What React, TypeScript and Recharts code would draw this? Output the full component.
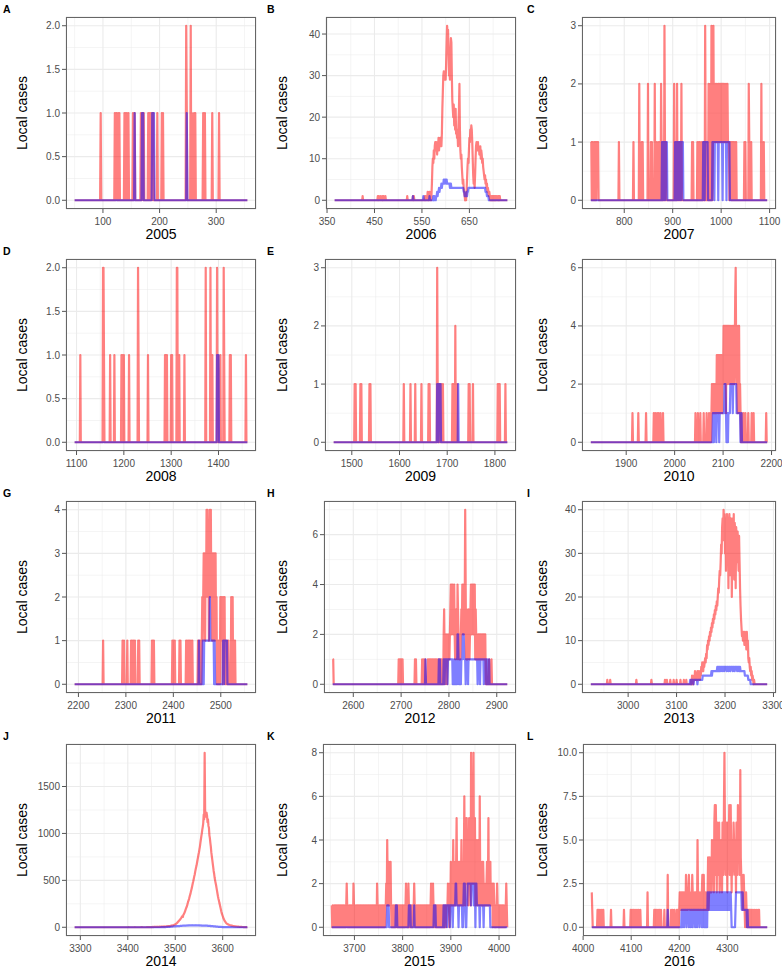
import { LineChart, Line, XAxis, YAxis, CartesianGrid } from "recharts";

// daily local cases (red) and linked cases (blue), one list per year.
// each entry: [firstDay, value, value, ...] for consecutive days; days not listed are 0
const local2005 = [
  [96, 1], [121, 1, 0, 1, 1, 0, 0, 1], [129, 1], [138, 1, 0, 1, 0, 1], [145, 1],
  [153, 1, 0, 1, 1], [167, 1, 0, 1, 1, 0, 1], [180, 1, 0, 1, 0, 1, 0, 1, 1, 0, 1],
  [196, 1], [204, 1, 0, 1], [247, 2, 1], [255, 2, 0, 1], [261, 1, 0, 1],
  [277, 1, 0, 0, 1], [293, 1], [305, 1],
];
const linked2005 = [[156, 1], [169, 1, 1, 1], [187, 1, 1, 1, 1], [248, 1]];

const local2006 = [
  [425, 1], [457, 1, 0, 1, 0, 0, 0, 1, 0, 0, 0, 1, 0, 1, 0, 0, 0, 1], [519, 1],
  [531, 1, 0, 1], [556, 1, 0, 1], [562, 2, 1, 0, 1, 2, 1, 0, 0],
  [570,
    1, 4, 8, 10, 9, 12, 10, 13, 14, 12,
    14, 13, 11, 14, 13, 15, 12, 14, 13, 15,
    14, 13, 16, 22, 26, 30, 31, 29, 30, 31,
    29, 33, 38, 42, 40, 41, 36, 30, 31, 29,
    35, 39, 38, 30, 24, 22, 20, 23, 18, 21,
    17, 22, 16, 17, 15, 16, 13, 18, 22, 28,
    17, 12, 10, 11, 8, 6, 4, 5, 3, 2,
    1, 0, 1, 0, 2, 5, 8, 10, 9, 12,
    15, 14, 17, 16, 18, 17, 14, 10, 6, 4,
    5, 3, 6, 10, 13, 14, 12, 13, 14, 12,
    13, 11, 12, 13, 10, 12, 11, 9, 10, 8,
    7, 6, 5, 6, 4, 5, 3, 4, 2, 3,
    2, 1, 2, 1, 0, 1, 1, 0, 1, 0,
    1, 1, 0, 1, 0, 1, 0, 1, 0, 0,
    1, 0, 1, 0, 1],
];
const linked2006 = [
  [531, 1], [553, 1], [566, 1], [574, 1, 0, 1],
  [580,
    1, 1, 2, 1, 2, 2, 3, 2, 3, 3,
    3, 4, 3, 4, 4, 4, 5, 4, 5, 5,
    5, 4, 5, 4, 4, 4, 4, 4, 4, 3,
    4, 4, 3, 3, 3, 3, 3, 3, 3, 3,
    3, 3, 3, 3, 3, 3, 3, 3, 3, 3,
    3, 3, 3, 3, 3, 3, 3, 3, 2, 2,
    1, 1, 1, 1, 2, 1, 2, 2, 3, 3,
    3, 3, 3, 3, 3, 3, 3, 3, 3, 3,
    3, 3, 3, 3, 3, 3, 3, 3, 3, 3,
    3, 3, 3, 3, 3, 3, 3, 3, 3, 3,
    3, 3, 3, 3, 2, 2, 2, 1, 1, 1,
    1, 0],
];

const local2007 = [
  [731, 1, 1, 0, 1, 1, 0, 0, 1, 0, 1, 1, 0, 1, 1, 1, 1], [789, 1], [819, 1], [831, 2],
  [836, 1, 0, 1], [849, 2], [855, 1, 0, 1], [863, 2, 0, 0, 0, 1],
  [871, 1, 0, 1, 0, 0, 2, 1, 0, 1, 0, 1, 0, 3, 1, 0, 1],
  [903, 2, 0, 1, 0, 0, 0, 2, 0, 1, 0, 0, 1, 0, 0, 0, 2], [940, 1, 0, 1], [951, 1, 0, 0, 1, 0, 1],
  [960,
    1, 0, 0, 1, 0, 1, 0, 3, 1, 0,
    1, 0, 1, 0, 2, 1, 0, 1, 2, 0,
    3, 1, 0, 1, 3, 1, 2, 1, 2, 1,
    1, 2, 1, 1, 2, 1, 2, 1, 1, 2,
    1, 2, 1, 2, 2, 1, 2, 1, 1, 1,
    2, 1, 1, 2, 1, 1, 1, 0, 1, 1,
    1, 0, 1, 0, 1, 0, 1, 1, 0, 0,
    1, 1],
  [1048, 1, 0, 1], [1057, 2, 1], [1062, 1], [1083, 2, 0, 1], [1088, 1],
];
const linked2007 = [
  [878, 1, 1, 0, 1, 1, 1, 0, 1, 1, 1, 1],
  [905, 1, 1, 0, 1, 0, 1, 1, 1, 0, 1, 1, 1, 0, 1, 1, 1, 1],
  [963, 1, 1, 1, 0, 1, 1, 1, 1, 1, 1],
  [982, 1, 1, 1, 1, 0, 1, 1, 1, 1, 1, 1, 1, 0, 1, 1, 1, 1, 1, 1, 1, 1, 0, 1, 1, 1, 1, 1, 1, 1, 0, 1, 1, 1, 1, 1, 1],
];

const local2008 = [
  [1108, 1], [1156, 2, 2, 1], [1171, 1], [1180, 1], [1195, 1, 0, 1], [1200, 1], [1211, 1],
  [1230, 2, 1], [1251, 1], [1287, 1, 0, 1, 0, 1], [1300, 1, 0, 1], [1312, 2, 2], [1317, 1],
  [1328, 1], [1373, 2], [1383, 2, 0, 0, 0, 1], [1397, 2, 0, 1], [1404, 1], [1411, 2, 1],
  [1424, 1, 0, 1], [1458, 1],
];
const linked2008 = [[1397, 1, 1, 1, 1]];

const local2009 = [
  [1506, 1, 0, 1], [1518, 1, 0, 1], [1537, 1, 0, 1], [1609, 1], [1623, 1], [1633, 1], [1646, 1],
  [1661, 1, 0, 1], [1679, 3, 1, 0, 1, 0, 1, 0, 0, 0, 1, 0, 0, 1],
  [1711, 1, 0, 1, 0, 0, 0, 2, 0, 0, 0, 1], [1745, 1, 0, 1], [1754, 1], [1806, 1, 0, 1, 0, 1], [1822, 1],
];
const linked2009 = [[1679, 1, 1, 1, 0, 1, 1, 1, 1], [1723, 1]];

const local2010 = [
  [1913, 1], [1925, 1], [1941, 1], [1957, 1, 0, 0, 1, 0, 0, 0, 1, 0, 0, 1, 0, 0, 0, 1, 0, 0, 0, 0, 1],
  [2043, 1], [2048, 1], [2053, 1], [2060, 1], [2066, 1], [2071, 1], [2074, 1],
  [2076,
    1, 2, 1, 2, 2, 1, 2, 1, 2, 2,
    1, 3, 2, 3, 1, 3, 2, 3, 1, 3,
    2, 3, 1, 3, 2, 4, 3, 4, 2, 4,
    1, 4, 3, 4, 2, 4, 3, 4, 2, 3,
    4, 2, 3, 4, 2, 3, 4, 2, 3, 5,
    6, 3, 2, 3, 1, 4, 2, 4, 1, 2,
    1, 0, 1],
  [2142, 1], [2146, 1], [2152, 1], [2159, 1], [2163, 1], [2189, 1],
];
const linked2010 = [
  [2079,
    1, 1, 0, 1, 1, 1, 1, 0, 1, 1,
    1, 1, 1, 0, 1, 1, 1, 1, 1, 1,
    1, 1, 1, 1, 2, 2, 2, 1, 0, 1,
    1, 0, 1, 1, 1, 1, 2, 2, 2, 2,
    2, 1, 2, 2, 2, 2, 2, 2, 2, 1,
    1, 1, 1, 1, 1, 1, 1, 0, 0, 1],
];

const local2011 = [
  [2252, 1], [2293, 1, 0, 0, 1], [2303, 1], [2311, 1, 0, 1, 0, 0, 1, 0, 0, 1], [2326, 1, 0, 1],
  [2355, 1, 0, 1, 0, 1], [2398, 1, 0, 1, 0, 0, 1], [2413, 1, 0, 1],
  [2427, 1, 0, 1, 0, 0, 1, 0, 1, 0, 0, 1, 0, 0, 1], [2452, 1, 0, 1],
  [2455,
    1, 0, 1, 1, 0, 1, 2, 1, 2, 3,
    2, 3, 1, 3, 2, 4, 3, 4, 2, 3,
    1, 3, 4, 3, 4, 2, 3, 1, 3, 2,
    3, 1, 3, 2, 3, 1, 2, 0, 1, 0,
    1, 0, 1, 0, 2, 1, 2, 1, 2, 0,
    1, 2, 1, 2, 0, 1, 0, 0, 1, 0,
    0, 1],
  [2522, 2, 1, 0, 2, 0, 0, 1, 0, 1],
];
const linked2011 = [
  [2454, 1],
  [2462, 1, 1, 0, 1, 1, 1, 1, 1, 1, 1, 1, 1, 1, 1, 1, 2, 1, 1, 1, 1, 1, 1, 1, 1, 0, 1],
  [2505, 1, 1, 0, 1, 1, 1, 1, 1, 1],
];

const local2012 = [
  [2557, 1, 1], [2695, 1, 0, 1, 0, 1, 0, 1, 0, 1], [2729, 1, 0, 1], [2744, 1, 0, 0, 1, 0, 0, 1],
  [2756,
    1, 0, 1, 1, 0, 1, 1, 0, 1, 0,
    1, 1, 0, 1, 0, 1, 1, 0, 1, 0,
    0, 1, 1, 0, 1, 1, 0, 1, 1, 0,
    1, 1, 0, 2, 3, 1, 0, 1, 2, 1,
    0, 1, 2, 1, 2, 1, 2, 3, 4, 2,
    4, 3, 4, 2, 3, 4, 2, 1, 2, 3,
    2, 1, 4, 3, 2, 1, 2, 2, 1, 2,
    3, 2, 4, 3, 4, 2, 4, 3, 7, 4,
    1, 3, 2, 1, 2, 3, 2, 1, 2, 3,
    4, 2, 4, 3, 4, 2, 4, 3, 4, 1,
    3, 2, 1, 2, 1, 2, 2, 1, 2, 1,
    2, 2, 1, 2, 2, 1, 2, 2, 1, 2,
    2, 0, 1],
  [2884, 1], [2889, 1],
];
const linked2012 = [
  [2751, 1], [2779, 1, 0, 1],
  [2789,
    1, 1, 0, 1, 1, 1, 1, 1, 0, 1,
    1, 1, 1, 1, 1, 1, 1, 1, 1, 0,
    0, 0, 1, 0, 0, 0, 1, 0, 0, 2,
    2, 1, 0, 1, 0, 1, 0, 1, 1, 1,
    2, 2, 2, 1, 1, 1, 0, 1, 1, 1,
    1, 0, 1, 1, 1, 1, 1, 1, 1, 1,
    1, 1, 1, 1, 1, 1, 1, 1, 1, 1,
    1, 0, 1, 1, 1, 1, 0, 1, 1, 1,
    1, 1, 1, 1, 0, 1, 1, 1, 1, 0,
    1, 1, 0, 0, 0, 1],
];

const local2013 = [
  [2957, 1], [2963, 1], [3017, 1], [3048, 1], [3076, 1, 0, 0, 0, 1], [3087, 1], [3094, 1],
  [3100, 1], [3108, 1], [3115, 1], [3120, 1],
  [3130,
    1, 0, 2, 1, 0, 1, 2, 1, 3, 1,
    2, 1, 2, 3, 1, 2, 3, 2, 1, 3,
    2, 4, 3, 5, 4, 3, 5, 4, 5, 6,
    5, 7, 6, 9, 8, 10, 9, 11, 10, 12,
    11, 13, 12, 14, 13, 15, 14, 16, 15, 17,
    16, 18, 17, 19, 18, 20, 22, 21, 24, 26,
    25, 28, 32, 30, 36, 38, 33, 40, 35, 39,
    30, 38, 26, 36, 39, 32, 38, 22, 37, 39,
    34, 25, 38, 36, 20, 33, 38, 30, 39, 24,
    37, 35, 22, 36, 33, 28, 35, 30, 26, 34,
    28, 22, 18, 15, 13, 11, 12, 10, 12, 11,
    9, 12, 10, 11, 8, 12, 9, 10, 6, 5,
    6, 4, 3, 4, 2, 3, 1, 2, 1, 0,
    1],
];
const linked2013 = [
  [3128,
    1, 1, 0, 1, 1, 1, 1, 0, 1, 1,
    1, 1, 1, 1, 1, 0, 1, 1, 1, 1,
    1, 1, 1, 1, 1, 1, 2, 2, 2, 2,
    2, 2, 2, 2, 2, 2, 2, 2, 2, 2,
    2, 2, 2, 2, 3, 2, 3, 3, 3, 3,
    3, 3, 3, 3, 3, 3, 4, 3, 4, 3,
    4, 4, 3, 4, 4, 4, 3, 4, 4, 4,
    3, 4, 4, 4, 4, 3, 4, 4, 4, 3,
    4, 4, 4, 3, 4, 4, 4, 4, 3, 4,
    4, 4, 3, 4, 4, 4, 4, 3, 4, 4,
    4, 3, 4, 4, 3, 3, 3, 3, 3, 3,
    3, 3, 3, 2, 2, 2, 2, 2, 2, 2,
    1, 1, 1, 1, 1, 0],
];

const local2014 = [
  [3402, 1], [3415, 1], [3428, 1, 0, 2],
  [3440,
    1, 0, 2, 1, 1, 3, 2, 1, 2, 3,
    2, 3, 2, 4, 3, 2, 4, 3, 5, 4,
    3, 5, 4, 6, 5, 4, 6, 5, 7, 6,
    5, 7, 6, 8, 7, 6, 8, 9, 7, 8,
    8, 10, 9, 11, 10, 12, 11, 13, 12, 14,
    15, 17, 16, 19, 18, 21, 20, 24, 26, 28,
    30, 34, 38, 42, 47, 52, 58, 63, 70, 76,
    80, 88, 95, 102, 110, 118, 110, 130, 140, 150,
    160, 175, 190, 205, 215, 230, 250, 270, 285, 300,
    320, 340, 355, 380, 400, 420, 445, 470, 490, 515,
    540, 560, 590, 615, 640, 660, 690, 720, 745, 775,
    800, 830, 860, 900, 935, 970, 1000, 1040, 1070, 1110,
    1200, 1150, 1860, 1250, 1180, 1210, 1220, 1190, 1120, 1150,
    1080, 1060, 980, 950, 900, 860, 800, 760, 720, 680,
    640, 600, 570, 530, 500, 475, 450, 420, 390, 360,
    330, 305, 285, 260, 240, 215, 195, 170, 150, 135,
    120, 105, 90, 80, 70, 62, 55, 48, 42, 38,
    35, 32, 29, 27, 24, 22, 21, 20, 18, 17,
    17, 15, 14, 13, 12, 11, 10, 10, 9, 8,
    8, 7, 7, 6, 6, 5, 5, 5, 4, 4,
    4, 3, 3, 3, 2, 2, 2, 1, 1, 1,
    1, 0, 1],
];
const linked2014 = [
  [3470,
    1, 0, 1, 2, 1, 2, 1, 3, 2, 3,
    2, 3, 4, 3, 4, 5, 4, 5, 6, 5,
    6, 7, 6, 8, 7, 8, 9, 8, 10, 9,
    10, 11, 10, 12, 11, 13, 12, 13, 14, 13,
    14, 15, 14, 16, 15, 16, 17, 16, 17, 18,
    17, 18, 19, 18, 19, 20, 19, 18, 20, 19,
    20, 19, 21, 20, 19, 21, 20, 22, 21, 20,
    21, 20, 22, 21, 20, 19, 21, 20, 19, 20,
    19, 20, 18, 19, 20, 18, 19, 17, 18, 19,
    18, 17, 19, 18, 16, 17, 18, 16, 17, 15,
    16, 15, 14, 15, 13, 14, 12, 13, 11, 12,
    10, 11, 9, 10, 8, 9, 7, 8, 6, 7,
    6, 5, 6, 4, 5, 4, 3, 4, 3, 2,
    3, 2, 2, 1, 2, 1, 1, 0, 1, 1,
    0, 1, 0, 1, 0, 0, 1, 0, 0, 1],
];

const local2015 = [
  [3653,
    1, 0, 1, 0, 0, 1, 0, 1, 1, 0,
    1, 0, 1, 0, 1, 1, 0, 1, 0, 1,
    0, 1, 0, 1, 1, 0, 1, 0, 1, 0,
    1, 2, 1, 0, 1, 0, 1, 1, 0, 1,
    0, 1, 0, 1, 0, 2, 1, 0, 1, 0,
    1, 0, 1, 1, 0, 1, 0, 1, 0, 1,
    1, 0, 1, 0, 1, 0, 1, 1, 0, 1,
    0, 1, 0, 1, 0, 1, 1, 0, 1, 0,
    1, 0, 1, 0, 1, 1, 0, 1, 0, 1,
    0, 1, 1, 0, 2, 1, 0, 1, 0, 1,
    1, 0, 1, 0, 1, 1, 0, 1, 0, 1,
    0, 1, 1, 2, 1, 4, 2, 1, 3, 1,
    2, 1, 3, 1, 0, 1, 0, 1, 0, 1,
    0, 1, 1, 0, 1, 0, 1, 1, 0, 1,
    0, 1, 0, 1, 1, 0, 1, 0, 1, 0,
    1, 1, 0, 1, 2, 1, 0, 1, 0, 2,
    1, 0, 1, 0, 1, 1, 0, 1, 0, 1,
    1, 2, 1, 0, 1, 0, 1, 1, 0, 1,
    0, 1, 0, 1, 1, 0, 1, 0, 1, 0,
    1, 0, 1, 1, 0, 1, 0, 1, 0, 1,
    1, 0, 1, 1, 0, 1, 2, 1, 0, 1,
    2, 1, 0, 1, 0, 1, 1, 0, 1, 0,
    1, 0, 1, 0, 1, 1, 0, 1, 0, 1,
    1, 0, 1, 1, 0, 1, 1, 0, 1, 1,
    1, 2, 1, 1, 0, 2, 1, 3, 1, 2,
    1, 2, 4, 1, 3, 2, 1, 2, 3, 5,
    2, 1, 3, 2, 1, 3, 1, 2, 2, 4,
    1, 3, 2, 1, 3, 6, 2, 1, 3, 5,
    5, 2, 4, 1, 3, 5, 2, 4, 1, 8,
    3, 5, 2, 4, 8, 2, 3, 5, 1, 3,
    2, 4, 1, 2, 4, 3, 1, 6, 2, 3,
    1, 2, 3, 1, 3, 2, 1, 2, 1, 2,
    1, 2, 3, 1, 2, 5, 1, 3, 2, 3,
    1, 2, 1, 2, 0, 1, 2, 1, 0, 1,
    1, 0, 1, 2, 1, 0, 1, 1, 0, 1,
    1, 0, 1, 0, 1, 1, 0, 1, 0, 1,
    0, 1, 2, 1, 0],
];
const linked2015 = [
  [3768, 1, 1, 1, 1], [3786, 1, 1, 1], [3813, 1, 1, 1, 1], [3824, 1], [3865, 1, 1, 1, 1],
  [3885,
    1, 1, 0, 1, 1, 1, 1, 0, 1, 1,
    1, 1, 1, 0, 1, 1, 1, 1, 1, 0,
    1, 1, 1, 1, 1, 2, 2, 1, 1, 1,
    1, 0, 1, 1, 1, 1, 1, 1, 1, 0,
    0, 1, 2, 2, 2, 1, 0, 0, 1, 1,
    2, 2, 2, 2, 2, 2, 2, 1, 2, 2,
    2, 2, 2, 1, 2, 2, 0, 2, 2, 1,
    1, 1, 1, 1, 1, 0, 1, 1, 1, 1,
    1, 1, 1, 0, 1, 1, 1, 1, 1, 1,
    1, 1, 1, 1, 1, 1, 1, 0, 0, 0],
];

const local2016 = [
  [4018, 2, 1], [4030, 1, 0, 1, 0, 0, 1, 0, 0, 0, 1, 0, 0, 1], [4058, 1], [4085, 1],
  [4099, 1, 0, 0, 1, 0, 0, 1, 0, 0, 1, 0, 0, 0, 1, 0, 0, 1, 0, 0, 0, 1], [4134, 2],
  [4148, 1, 0, 1, 0, 0, 1, 0, 0, 1, 0, 0, 1, 0, 0, 1], [4169, 1], [4176, 3],
  [4183, 1, 0, 0, 1, 0, 0, 0, 1],
  [4195,
    1, 0, 1, 1, 0, 1, 2, 1, 2, 1,
    2, 1, 2, 2, 1, 2, 1, 2, 1, 3,
    2, 1, 2, 1, 2, 3, 2, 1, 2, 1,
    2, 1, 3, 2, 1, 2, 1, 2, 1, 2,
    1, 2, 1, 5, 2, 1, 2, 1, 2, 1,
    2, 1, 2, 3, 1, 2, 3, 1, 2, 1,
    2, 1, 2, 1, 2, 4, 1, 2, 4, 2,
    3, 4, 2, 5, 3, 4, 5, 2, 6, 7,
    3, 7, 5, 2, 6, 4, 3, 5, 6, 2,
    4, 3, 5, 4, 2, 6, 5, 3, 7, 10,
    6, 4, 3, 6, 5, 2, 6, 4, 5, 7,
    3, 5, 7, 4, 2, 5, 3, 4, 6, 5,
    4, 3, 5, 2, 6, 4, 3, 7, 4, 5,
    6, 3, 9, 4, 3, 2, 3, 1, 2, 3,
    2, 1, 0, 1, 2, 1, 0, 1, 0, 1,
    0, 1, 0, 1, 0, 1, 0, 0, 1, 0,
    0, 1, 0, 0, 0, 1, 0, 0, 0, 1,
    0, 1, 0],
];
const linked2016 = [
  [4176, 1],
  [4205,
    1, 0, 1, 1, 1, 0, 1, 1, 1, 1,
    0, 1, 1, 1, 1, 0, 1, 1, 1, 0,
    1, 1, 1, 0, 1, 1, 1, 1, 0, 1,
    1, 1, 0, 1, 1, 1, 1, 0, 1, 1,
    1, 1, 0, 0, 1, 1, 1, 0, 1, 1,
    0, 1, 1, 0, 2, 2, 1, 2, 2, 1,
    2, 1, 1, 2, 1, 2, 2, 1, 2, 1,
    2, 2, 1, 2, 1, 2, 1, 2, 2, 1,
    2, 1, 2, 2, 1, 2, 1, 2, 1, 2,
    2, 1, 2, 2, 1, 2, 1, 2, 2, 1,
    2, 1, 2, 1, 0, 0, 0, 0, 0, 0,
    0, 0, 1, 2, 2, 2, 2, 2, 2, 2,
    2, 2, 2, 2, 2, 1, 2, 2, 1, 1,
    1, 1, 1, 1, 1, 1, 0, 1, 0, 0],
];

const PANELS = [
  { letter: "A", year: "2005", start: 50, end: 355, xTicks: [100, 200, 300], yTicks: [0, 0.5, 1, 1.5, 2], digits: 1, left: 66, local: local2005, linked: linked2005 },
  { letter: "B", year: "2006", start: 366, end: 730, xTicks: [350, 450, 550, 650], yTicks: [0, 10, 20, 30, 40], digits: 0, left: 66, local: local2006, linked: linked2006 },
  { letter: "C", year: "2007", start: 731, end: 1095, xTicks: [800, 900, 1000, 1100], yTicks: [0, 1, 2, 3], digits: 0, left: 62, local: local2007, linked: linked2007 },
  { letter: "D", year: "2008", start: 1096, end: 1461, xTicks: [1100, 1200, 1300, 1400], yTicks: [0, 0.5, 1, 1.5, 2], digits: 1, left: 66, local: local2008, linked: linked2008 },
  { letter: "E", year: "2009", start: 1462, end: 1826, xTicks: [1500, 1600, 1700, 1800], yTicks: [0, 1, 2, 3], digits: 0, left: 65, local: local2009, linked: linked2009 },
  { letter: "F", year: "2010", start: 1827, end: 2191, xTicks: [1900, 2000, 2100, 2200], yTicks: [0, 2, 4, 6], digits: 0, left: 62, local: local2010, linked: linked2010 },
  { letter: "G", year: "2011", start: 2192, end: 2556, xTicks: [2200, 2300, 2400, 2500], yTicks: [0, 1, 2, 3, 4], digits: 0, left: 66, local: local2011, linked: linked2011 },
  { letter: "H", year: "2012", start: 2557, end: 2922, xTicks: [2600, 2700, 2800, 2900], yTicks: [0, 2, 4, 6], digits: 0, left: 64, local: local2012, linked: linked2012 },
  { letter: "I", year: "2013", start: 2923, end: 3287, xTicks: [3000, 3100, 3200, 3300], yTicks: [0, 10, 20, 30, 40], digits: 0, left: 62, local: local2013, linked: linked2013 },
  { letter: "J", year: "2014", start: 3288, end: 3652, xTicks: [3300, 3400, 3500, 3600], yTicks: [0, 500, 1000, 1500], digits: 0, left: 66, local: local2014, linked: linked2014 },
  { letter: "K", year: "2015", start: 3653, end: 4017, xTicks: [3700, 3800, 3900, 4000], yTicks: [0, 2, 4, 6, 8], digits: 0, left: 63, local: local2015, linked: linked2015 },
  { letter: "L", year: "2016", start: 4018, end: 4383, xTicks: [4000, 4100, 4200, 4300], yTicks: [0, 2.5, 5, 7.5, 10], digits: 1, left: 63, local: local2016, linked: linked2016 },
];

const FONT = '"Liberation Sans", Arial, Helvetica, sans-serif';
const COL_X = [0, 260, 520];
const ROW_Y = [0, 242, 484, 727];
const H = 242;
const TOP = 17;
const BOTTOM = 209;
const RIGHT = 256;

function buildRows(start: number, end: number, local: number[][], linked: number[][]) {
  const a = new Map<number, number>();
  const b = new Map<number, number>();
  local.forEach(([s, ...v]) => v.forEach((c, i) => a.set(s + i, c)));
  linked.forEach(([s, ...v]) => v.forEach((c, i) => b.set(s + i, c)));
  const rows = [];
  for (let d = start; d <= end; d++) rows.push({ day: d, local: a.get(d) ?? 0, linked: b.get(d) ?? 0 });
  return rows;
}

// ggplot style 5% expansion
const expand = (lo: number, hi: number) => [lo - (hi - lo) * 0.05, hi + (hi - lo) * 0.05];

const minorOf = (ticks: number[], dom: number[]) => {
  const step = ticks[1] - ticks[0];
  const out: number[] = [];
  for (let v = ticks[0] - step / 2; v <= dom[1]; v += step) if (v >= dom[0]) out.push(v);
  return out;
};

function Panel({ p, idx }: { p: any; idx: number }) {
  const col = idx % 3;
  const row = Math.floor(idx / 3);
  const W = col === 2 ? 262 : 260;
  const rows = buildRows(p.start, p.end, p.local, p.linked);
  const yMax = Math.max(...rows.map((r) => Math.max(r.local, r.linked)));
  const xDom = expand(p.start, p.end);
  const yDom = expand(0, yMax);
  const tickStyle = { fontSize: 10, fill: "#4D4D4D", fontFamily: FONT };
  return (
    <div style={{ position: "absolute", left: COL_X[col], top: ROW_Y[row], width: W, height: H }}>
      <LineChart width={W} height={H} data={rows} margin={{ top: TOP, right: W - RIGHT, bottom: 0, left: 0 }}>
        <XAxis xAxisId="minor" type="number" dataKey="day" domain={xDom} ticks={minorOf(p.xTicks, xDom)} hide allowDataOverflow interval={0} />
        <YAxis yAxisId="minor" type="number" domain={yDom} ticks={minorOf(p.yTicks, yDom)} hide allowDataOverflow interval={0} />
        <CartesianGrid xAxisId="minor" yAxisId="minor" stroke="#EBEBEB" strokeWidth={0.55} />
        <CartesianGrid stroke="#EBEBEB" strokeWidth={1.1} />
        <XAxis
          type="number"
          dataKey="day"
          domain={xDom}
          ticks={p.xTicks}
          allowDataOverflow
          interval={0}
          height={H - BOTTOM}
          tickSize={4}
          tickMargin={5}
          axisLine={false}
          tickLine={{ stroke: "#555" }}
          tick={tickStyle}
        />
        <YAxis
          type="number"
          domain={yDom}
          ticks={p.yTicks}
          allowDataOverflow
          interval={0}
          width={p.left}
          tickSize={4}
          tickMargin={2}
          axisLine={false}
          tickLine={{ stroke: "#555" }}
          tick={tickStyle}
          tickFormatter={(v: number) => v.toFixed(p.digits)}
        />
        <Line dataKey="local" type="linear" stroke="#FF0000" strokeOpacity={0.5} strokeWidth={2.2} strokeLinejoin="round" dot={false} activeDot={false} isAnimationActive={false} />
        <Line dataKey="linked" type="linear" stroke="#0000FF" strokeOpacity={0.5} strokeWidth={2.2} strokeLinejoin="round" dot={false} activeDot={false} isAnimationActive={false} />
      </LineChart>
      <div
        style={{
          position: "absolute",
          left: p.left,
          top: TOP,
          width: RIGHT - p.left,
          height: BOTTOM - TOP,
          border: "1px solid #666",
          boxSizing: "border-box",
          pointerEvents: "none",
        }}
      />
      <div style={{ position: "absolute", left: col === 0 ? 3 : 7, top: 3.5, fontFamily: FONT, fontWeight: 700, fontSize: 10.5, lineHeight: "10.5px" }}>
        {p.letter}
      </div>
      <div
        style={{
          position: "absolute",
          left: 22,
          top: (TOP + BOTTOM) / 2,
          transform: "translate(-50%, -50%) rotate(-90deg)",
          whiteSpace: "nowrap",
          fontFamily: FONT,
          fontSize: 14,
          lineHeight: "14px",
        }}
      >
        Local cases
      </div>
      <div
        style={{
          position: "absolute",
          left: p.left,
          width: RIGHT - p.left,
          top: 227,
          textAlign: "center",
          fontFamily: FONT,
          fontSize: 14,
          lineHeight: "14px",
        }}
      >
        {p.year}
      </div>
    </div>
  );
}

export default function App() {
  return (
    <div style={{ position: "absolute", left: 0, top: 0, width: 782, height: 969, background: "#fff" }}>
      {PANELS.map((p, i) => (
        <Panel key={p.letter} p={p} idx={i} />
      ))}
    </div>
  );
}
